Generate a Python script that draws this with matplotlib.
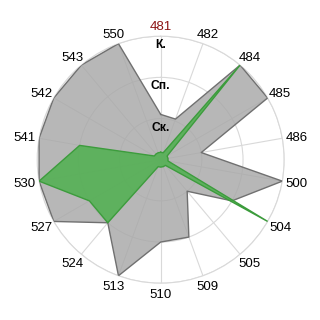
import numpy as np
import matplotlib
matplotlib.use('Agg')
import matplotlib.pyplot as plt

categories = ['481', '482', '484', '485', '486', '500', '504', '505', '509',
              '510', '513', '524', '527', '530', '541', '542', '543', '550']
gray_values = [1.1, 1.05, 3, 3, 1, 3, 2, 1, 2, 2, 3, 2, 3, 3, 3, 3, 3, 3]
green_values = [0.18, 0.18, 3, 0.18, 0.18, 0.18, 3, 0.18, 0.18, 0.18, 0.18,
                2, 2, 3, 2, 0.18, 0.18, 0.18]
level_labels = ['Ск.', 'Сп.', 'К.']
level_values = [1, 2, 3]
highlight_category = '481'

plt.rcParams['font.family'] = ['Liberation Sans', 'DejaVu Sans']

W = 320.0
fig = plt.figure(figsize=(3.2, 3.2), dpi=100)
cx, cy, rad = 160.7, 159.7, 123.5
ax = fig.add_axes([(cx - rad) / W, (W - cy - rad) / W, 2 * rad / W, 2 * rad / W],
                  projection='polar')
ax.set_theta_zero_location('N')
ax.set_theta_direction(-1)

n = len(categories)
theta = np.arange(n) * 2 * np.pi / n
ax.set_ylim(0, max(level_values))
ax.set_xticks(theta)
ax.set_xticklabels([])
ax.set_yticks(level_values)
ax.set_yticklabels([])
ax.grid(color='#d9d9d9', lw=0.8)
ax.spines['polar'].set_color('#d9d9d9')
ax.spines['polar'].set_linewidth(0.8)
ax.tick_params(length=0)

tc = np.append(theta, theta[0])
gv = np.append(gray_values, gray_values[0])
grv = np.append(green_values, green_values[0])

ax.fill(tc, gv, facecolor='#a8a8a8', alpha=0.82, edgecolor='none', zorder=2)
ax.plot(tc, gv, color='#707070', lw=1.0, zorder=3)
ax.fill(tc, grv, facecolor='#4fb04f', alpha=0.85, edgecolor='none', zorder=4)
ax.plot(tc, grv, color='#3c9c3c', lw=1.0, zorder=5)

for t, lab in zip(theta, categories):
    dx = np.sin(t) * 14.5
    dy = np.cos(t) * 10.6 - 1.3
    ax.annotate(lab, xy=(t, max(level_values)), xytext=(dx, dy),
                textcoords='offset pixels', ha='center', va='center',
                fontsize=9.5, annotation_clip=False, zorder=10,
                color='#8c1414' if lab == highlight_category else '#000000')

for v, lab in zip(level_values, level_labels):
    ax.text(0, v - 0.22, lab, ha='center', va='center', fontsize=8.7,
            fontweight='bold', color='#000000', zorder=10)

fig.savefig('out.png', dpi=100, facecolor='white')
